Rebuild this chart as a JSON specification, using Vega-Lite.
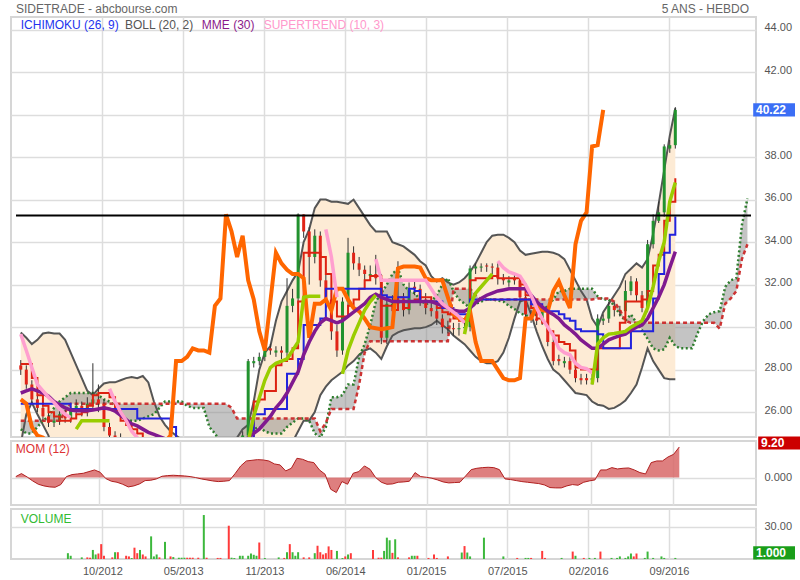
{
"$schema":"https://vega.github.io/schema/vega-lite/v6.json",
"background":"white",
"padding":{"left":10,"top":2,"right":0,"bottom":0},
"bounds":"flush",
"config":{"font":"Liberation Sans","view":{"stroke":"#d6d6d6","strokeWidth":2},"axis":{"labelFont":"Liberation Sans","labelFontSize":11,"labelColor":"#555555","gridColor":"#dddddd","gridWidth":1.5,"domain":false,"ticks":false,"title":null},"concat":{"spacing":4}},
"datasets":{
"p":[
{"d":"2012-03-19","o":28.2,"h":28.45,"l":27.75,"c":28.0,"bu":29.75,"bl":24.5,"tk":28.26,"kj":26.4,"sa":25.2,"sb":25.6,"ck":26.6,"me":26.9,"m":0.3},
{"d":"2012-04-02","o":28.0,"h":28.2,"l":27.1,"c":27.3,"bu":29.5,"bl":25.9,"tk":28.26,"kj":26.4,"sa":25.0,"sb":25.6,"ck":26.4,"me":27.0,"m":1.2},
{"d":"2012-04-16","o":27.3,"h":27.5,"l":26.4,"c":26.6,"bu":29.2,"bl":26.45,"tk":27.6,"kj":26.4,"sa":25.0,"sb":25.6,"ck":25.3,"me":27.1,"m":0.2},
{"d":"2012-04-30","o":26.6,"h":26.8,"l":26.0,"c":26.2,"bu":29.4,"bl":25.9,"tk":26.8,"kj":26.4,"sa":25.3,"sb":25.6,"ck":24.9,"me":27.0,"m":-1.0},
{"d":"2012-05-14","o":26.2,"h":26.4,"l":25.6,"c":25.8,"bu":29.7,"bl":25.4,"tk":26.3,"kj":26.4,"sa":25.6,"sb":25.6,"ck":24.8,"me":26.9,"m":-2.0},
{"d":"2012-05-28","o":25.8,"h":26.0,"l":25.3,"c":25.5,"bu":29.75,"bl":24.9,"tk":26.0,"kj":26.4,"sa":25.8,"sb":25.6,"ck":24.6,"me":26.75,"m":-2.5},
{"d":"2012-06-11","o":25.5,"h":25.8,"l":25.3,"c":25.6,"bu":29.7,"bl":23.8,"tk":25.8,"kj":26.4,"sa":26.2,"sb":25.6,"ck":24.5,"me":26.5,"m":-2.8},
{"d":"2012-06-25","o":25.6,"h":26.1,"l":25.4,"c":25.9,"bu":29.7,"bl":23.8,"tk":25.6,"kj":26.4,"sa":26.5,"sb":25.6,"ck":24.4,"me":26.35,"m":-2.9},
{"d":"2012-07-09","o":25.9,"h":26.1,"l":25.5,"c":25.7,"bu":29.4,"bl":23.8,"tk":25.6,"kj":26.4,"sa":26.7,"sb":26.0,"ck":24.3,"me":26.2,"m":-2.1},
{"d":"2012-07-23","o":25.7,"h":26.3,"l":25.5,"c":26.1,"bu":28.8,"bl":23.8,"tk":25.7,"kj":26.15,"sa":26.9,"sb":26.4,"ck":24.4,"me":26.1,"m":0.3},
{"d":"2012-08-06","o":26.1,"h":26.6,"l":25.9,"c":26.3,"bu":28.2,"bl":23.8,"tk":25.9,"kj":26.15,"sa":26.9,"sb":26.4,"ck":24.3,"me":26.06,"m":0.9},
{"d":"2012-08-20","o":26.3,"h":26.5,"l":25.8,"c":26.0,"bu":27.6,"bl":23.8,"tk":26.0,"kj":26.15,"sa":26.9,"sb":26.4,"ck":24.2,"me":26.06,"m":1.1},
{"d":"2012-09-03","o":26.0,"h":26.7,"l":25.8,"c":26.4,"bu":27.0,"bl":23.8,"tk":26.3,"kj":26.15,"sa":26.9,"sb":26.4,"ck":24.3,"me":26.06,"m":1.3},
{"d":"2012-09-17","o":26.4,"h":28.3,"l":26.2,"c":26.6,"bu":26.8,"bl":23.8,"tk":26.8,"kj":26.15,"sa":26.9,"sb":26.4,"ck":24.4,"me":26.1,"m":1.8},
{"d":"2012-10-01","o":26.6,"h":27.3,"l":26.0,"c":26.4,"bu":27.1,"bl":23.8,"tk":26.9,"kj":26.15,"sa":26.8,"sb":26.4,"ck":24.3,"me":26.15,"m":2.3},
{"d":"2012-10-15","o":26.4,"h":26.6,"l":25.1,"c":25.3,"bu":27.35,"bl":23.8,"tk":26.9,"kj":26.15,"sa":26.6,"sb":26.4,"ck":24.2,"me":26.2,"m":1.6},
{"d":"2012-10-29","o":25.3,"h":25.5,"l":24.7,"c":24.9,"bu":27.4,"bl":23.8,"tk":26.7,"kj":26.15,"sa":26.5,"sb":26.4,"ck":24.3,"me":26.15,"m":-0.3},
{"d":"2012-11-12","o":24.9,"h":25.1,"l":24.6,"c":24.8,"bu":27.4,"bl":23.8,"tk":26.1,"kj":26.15,"sa":26.3,"sb":26.4,"ck":24.4,"me":26.05,"m":-1.1},
{"d":"2012-11-26","o":24.8,"h":25.0,"l":24.4,"c":24.6,"bu":27.5,"bl":23.8,"tk":25.6,"kj":26.15,"sa":25.9,"sb":26.4,"ck":24.3,"me":25.85,"m":-1.4},
{"d":"2012-12-10","o":24.6,"h":24.8,"l":24.3,"c":24.5,"bu":27.6,"bl":23.8,"tk":25.4,"kj":26.15,"sa":25.6,"sb":26.4,"ck":24.2,"me":25.65,"m":-2.0},
{"d":"2012-12-24","o":24.5,"h":24.7,"l":24.2,"c":24.4,"bu":27.65,"bl":23.8,"tk":25.2,"kj":26.15,"sa":25.6,"sb":26.4,"ck":24.3,"me":25.45,"m":-2.8},
{"d":"2013-01-07","o":24.4,"h":24.6,"l":24.1,"c":24.3,"bu":27.6,"bl":23.8,"tk":25.0,"kj":25.7,"sa":25.6,"sb":26.4,"ck":24.4,"me":25.35,"m":-2.5},
{"d":"2013-01-21","o":24.3,"h":24.6,"l":24.1,"c":24.4,"bu":27.7,"bl":23.8,"tk":24.6,"kj":25.7,"sa":25.7,"sb":26.4,"ck":24.3,"me":25.2,"m":-1.9},
{"d":"2013-02-04","o":24.4,"h":24.6,"l":24.1,"c":24.3,"bu":27.4,"bl":23.8,"tk":24.5,"kj":25.7,"sa":25.8,"sb":26.4,"ck":24.2,"me":25.05,"m":-0.9},
{"d":"2013-02-18","o":24.3,"h":24.5,"l":24.0,"c":24.2,"bu":26.5,"bl":23.8,"tk":24.4,"kj":25.7,"sa":25.9,"sb":26.4,"ck":24.3,"me":24.95,"m":-0.8},
{"d":"2013-03-04","o":24.2,"h":24.5,"l":24.0,"c":24.3,"bu":25.8,"bl":23.8,"tk":24.4,"kj":25.7,"sa":26.2,"sb":26.4,"ck":24.4,"me":24.85,"m":-0.4},
{"d":"2013-03-18","o":24.3,"h":24.6,"l":24.1,"c":24.4,"bu":25.4,"bl":23.8,"tk":24.4,"kj":25.7,"sa":26.5,"sb":26.4,"ck":24.6,"me":24.75,"m":0.4},
{"d":"2013-04-01","o":24.4,"h":24.6,"l":24.1,"c":24.3,"bu":25.1,"bl":23.8,"tk":24.4,"kj":25.3,"sa":26.5,"sb":26.4,"ck":24.9,"me":24.7,"m":0.6},
{"d":"2013-04-15","o":24.3,"h":24.5,"l":24.0,"c":24.2,"bu":24.9,"bl":23.8,"tk":24.4,"kj":24.5,"sa":26.5,"sb":26.4,"ck":28.4,"me":24.65,"m":0.7},
{"d":"2013-04-29","o":24.2,"h":24.5,"l":24.0,"c":24.3,"bu":24.7,"bl":23.8,"tk":24.4,"kj":24.5,"sa":26.5,"sb":26.4,"ck":28.4,"me":24.6,"m":0.6},
{"d":"2013-05-13","o":24.3,"h":24.6,"l":24.1,"c":24.4,"bu":24.6,"bl":23.8,"tk":24.4,"kj":24.5,"sa":26.3,"sb":26.4,"ck":28.6,"me":24.55,"m":0.5},
{"d":"2013-05-27","o":24.4,"h":24.6,"l":24.1,"c":24.3,"bu":24.6,"bl":23.8,"tk":24.4,"kj":24.5,"sa":26.2,"sb":26.4,"ck":29.0,"me":24.5,"m":0.3},
{"d":"2013-06-10","o":24.3,"h":24.5,"l":24.0,"c":24.2,"bu":24.6,"bl":23.8,"tk":24.4,"kj":24.5,"sa":26.2,"sb":26.4,"ck":28.9,"me":24.5,"m":0.0},
{"d":"2013-06-24","o":24.2,"h":24.5,"l":24.0,"c":24.3,"bu":24.6,"bl":23.8,"tk":24.4,"kj":24.5,"sa":26.2,"sb":26.4,"ck":28.9,"me":24.5,"m":-0.4},
{"d":"2013-07-08","o":24.3,"h":24.6,"l":24.1,"c":24.4,"bu":24.6,"bl":23.8,"tk":24.4,"kj":24.5,"sa":25.3,"sb":26.4,"ck":28.8,"me":24.5,"m":-0.7},
{"d":"2013-07-22","o":24.4,"h":24.6,"l":24.1,"c":24.3,"bu":24.6,"bl":23.8,"tk":24.4,"kj":24.5,"sa":25.0,"sb":26.4,"ck":31.0,"me":24.5,"m":-1.0},
{"d":"2013-08-05","o":24.3,"h":24.5,"l":24.0,"c":24.2,"bu":24.6,"bl":23.8,"tk":24.4,"kj":24.5,"sa":24.6,"sb":26.4,"ck":31.35,"me":24.5,"m":-1.2},
{"d":"2013-08-19","o":24.2,"h":24.5,"l":24.0,"c":24.3,"bu":24.6,"bl":23.8,"tk":24.4,"kj":24.5,"sa":24.6,"sb":26.4,"ck":35.3,"me":24.5,"m":-1.1},
{"d":"2013-09-02","o":24.3,"h":24.6,"l":24.1,"c":24.4,"bu":24.7,"bl":23.8,"tk":24.4,"kj":24.5,"sa":24.6,"sb":26.2,"ck":34.5,"me":24.5,"m":-0.9},
{"d":"2013-09-16","o":24.4,"h":24.8,"l":24.2,"c":24.6,"bu":24.8,"bl":23.8,"tk":24.4,"kj":24.5,"sa":24.6,"sb":25.7,"ck":33.3,"me":24.55,"m":1.2},
{"d":"2013-09-30","o":24.6,"h":25.1,"l":24.4,"c":24.9,"bu":25.2,"bl":23.8,"tk":24.4,"kj":24.5,"sa":24.6,"sb":25.7,"ck":34.3,"me":24.6,"m":3.5},
{"d":"2013-10-14","o":24.9,"h":28.5,"l":24.8,"c":28.4,"bu":25.4,"bl":23.8,"tk":24.8,"kj":24.5,"sa":24.8,"sb":25.7,"ck":32.2,"me":24.8,"m":5.0},
{"d":"2013-10-28","o":28.3,"h":28.6,"l":28.1,"c":28.4,"bu":26.5,"bl":23.8,"tk":26.5,"kj":25.9,"sa":25.2,"sb":25.7,"ck":31.3,"me":25.0,"m":5.2},
{"d":"2013-11-11","o":28.4,"h":28.8,"l":28.2,"c":28.6,"bu":28.0,"bl":23.8,"tk":26.6,"kj":25.9,"sa":25.3,"sb":25.7,"ck":29.8,"me":25.2,"m":5.4},
{"d":"2013-11-25","o":28.6,"h":29.2,"l":28.4,"c":29.0,"bu":28.8,"bl":23.8,"tk":27.0,"kj":26.15,"sa":25.1,"sb":25.7,"ck":28.9,"me":25.5,"m":5.3},
{"d":"2013-12-09","o":29.0,"h":29.2,"l":28.7,"c":28.9,"bu":29.1,"bl":23.8,"tk":27.0,"kj":26.15,"sa":25.0,"sb":25.7,"ck":31.2,"me":25.8,"m":5.0},
{"d":"2013-12-23","o":28.8,"h":29.1,"l":28.6,"c":28.9,"bu":30.3,"bl":23.8,"tk":28.2,"kj":26.15,"sa":25.0,"sb":25.7,"ck":33.5,"me":26.2,"m":4.1},
{"d":"2014-01-06","o":28.9,"h":29.1,"l":28.5,"c":28.8,"bu":31.2,"bl":23.8,"tk":28.4,"kj":26.15,"sa":25.0,"sb":25.7,"ck":33.0,"me":26.5,"m":3.8},
{"d":"2014-01-20","o":28.8,"h":32.3,"l":28.6,"c":31.0,"bu":31.7,"bl":23.8,"tk":28.5,"kj":27.8,"sa":25.3,"sb":25.7,"ck":32.7,"me":26.9,"m":2.0},
{"d":"2014-02-03","o":31.0,"h":31.8,"l":30.7,"c":31.35,"bu":32.2,"bl":24.6,"tk":29.0,"kj":27.8,"sa":25.5,"sb":25.7,"ck":32.5,"me":27.4,"m":2.8},
{"d":"2014-02-17","o":31.35,"h":35.35,"l":31.1,"c":35.3,"bu":32.6,"bl":25.1,"tk":31.2,"kj":28.5,"sa":25.7,"sb":25.7,"ck":32.5,"me":27.9,"m":5.8},
{"d":"2014-03-03","o":35.3,"h":35.3,"l":34.2,"c":34.5,"bu":34.0,"bl":25.6,"tk":33.5,"kj":30.1,"sa":25.7,"sb":25.7,"ck":32.3,"me":28.7,"m":5.5},
{"d":"2014-03-17","o":34.5,"h":34.7,"l":32.0,"c":33.3,"bu":34.6,"bl":25.6,"tk":33.5,"kj":30.1,"sa":25.6,"sb":25.7,"ck":29.5,"me":29.3,"m":4.8},
{"d":"2014-03-31","o":33.3,"h":34.6,"l":33.0,"c":34.3,"bu":35.6,"bl":26.0,"tk":33.5,"kj":30.1,"sa":25.0,"sb":25.7,"ck":31.1,"me":29.8,"m":4.5},
{"d":"2014-04-14","o":34.3,"h":34.5,"l":31.9,"c":32.2,"bu":36.0,"bl":26.8,"tk":33.3,"kj":30.4,"sa":24.8,"sb":25.1,"ck":31.1,"me":30.2,"m":2.3},
{"d":"2014-04-28","o":32.2,"h":32.5,"l":30.9,"c":31.3,"bu":36.0,"bl":27.2,"tk":32.5,"kj":31.8,"sa":25.3,"sb":25.5,"ck":31.3,"me":30.4,"m":1.0},
{"d":"2014-05-12","o":31.3,"h":31.6,"l":29.4,"c":29.8,"bu":35.9,"bl":27.5,"tk":31.2,"kj":31.8,"sa":26.7,"sb":26.15,"ck":30.8,"me":30.3,"m":-3.5},
{"d":"2014-05-26","o":29.8,"h":30.1,"l":28.6,"c":28.9,"bu":35.9,"bl":27.7,"tk":30.5,"kj":31.8,"sa":26.7,"sb":26.15,"ck":31.8,"me":30.2,"m":-4.5},
{"d":"2014-06-09","o":28.9,"h":31.4,"l":28.7,"c":31.2,"bu":35.85,"bl":27.9,"tk":30.5,"kj":31.8,"sa":26.8,"sb":26.15,"ck":31.8,"me":30.3,"m":-1.2},
{"d":"2014-06-23","o":31.2,"h":34.2,"l":31.0,"c":33.5,"bu":35.8,"bl":28.2,"tk":31.0,"kj":31.8,"sa":27.3,"sb":26.15,"ck":31.3,"me":30.5,"m":-2.0},
{"d":"2014-07-07","o":33.5,"h":33.8,"l":32.7,"c":33.0,"bu":36.0,"bl":28.4,"tk":31.3,"kj":31.8,"sa":27.3,"sb":26.15,"ck":30.9,"me":30.7,"m":1.3},
{"d":"2014-07-21","o":33.0,"h":33.3,"l":32.4,"c":32.7,"bu":35.6,"bl":28.7,"tk":31.8,"kj":31.8,"sa":28.6,"sb":27.3,"ck":30.75,"me":30.9,"m":1.8},
{"d":"2014-08-04","o":32.7,"h":32.9,"l":32.2,"c":32.5,"bu":35.2,"bl":28.9,"tk":32.2,"kj":31.8,"sa":29.2,"sb":28.8,"ck":30.4,"me":31.1,"m":3.5},
{"d":"2014-08-18","o":32.4,"h":32.9,"l":32.2,"c":32.5,"bu":34.8,"bl":29.0,"tk":32.4,"kj":31.8,"sa":30.1,"sb":29.34,"ck":30.0,"me":31.4,"m":2.5},
{"d":"2014-09-01","o":32.5,"h":33.4,"l":32.0,"c":32.3,"bu":34.5,"bl":28.8,"tk":32.4,"kj":31.8,"sa":31.2,"sb":29.34,"ck":29.95,"me":31.55,"m":0.0},
{"d":"2014-09-15","o":32.3,"h":32.5,"l":29.2,"c":29.5,"bu":34.5,"bl":28.5,"tk":31.0,"kj":31.5,"sa":31.6,"sb":29.34,"ck":29.9,"me":31.4,"m":-1.4},
{"d":"2014-09-29","o":29.5,"h":31.4,"l":29.2,"c":31.1,"bu":34.5,"bl":29.1,"tk":31.0,"kj":31.4,"sa":32.0,"sb":29.34,"ck":29.95,"me":31.3,"m":-2.0},
{"d":"2014-10-13","o":31.0,"h":31.5,"l":30.7,"c":31.1,"bu":34.0,"bl":29.6,"tk":30.8,"kj":31.4,"sa":32.5,"sb":29.34,"ck":30.0,"me":31.2,"m":-1.9},
{"d":"2014-10-27","o":31.1,"h":33.1,"l":30.8,"c":31.3,"bu":33.9,"bl":29.75,"tk":31.4,"kj":31.4,"sa":32.76,"sb":29.34,"ck":32.76,"me":31.2,"m":-1.4},
{"d":"2014-11-10","o":31.3,"h":31.6,"l":30.5,"c":30.8,"bu":33.8,"bl":29.85,"tk":30.9,"kj":31.4,"sa":32.0,"sb":29.34,"ck":32.85,"me":31.2,"m":-1.3},
{"d":"2014-11-24","o":30.8,"h":32.1,"l":30.6,"c":31.8,"bu":33.6,"bl":29.9,"tk":31.2,"kj":31.8,"sa":31.7,"sb":29.34,"ck":32.85,"me":31.2,"m":-1.1},
{"d":"2014-12-08","o":31.9,"h":32.2,"l":31.5,"c":31.8,"bu":33.4,"bl":29.95,"tk":31.3,"kj":31.7,"sa":31.6,"sb":29.34,"ck":32.85,"me":31.2,"m":1.5},
{"d":"2014-12-22","o":31.8,"h":32.0,"l":31.0,"c":31.3,"bu":33.1,"bl":29.95,"tk":31.4,"kj":31.2,"sa":31.3,"sb":29.34,"ck":32.8,"me":31.2,"m":0.3},
{"d":"2015-01-05","o":31.3,"h":31.6,"l":30.6,"c":30.9,"bu":32.9,"bl":30.0,"tk":31.4,"kj":31.2,"sa":31.07,"sb":29.34,"ck":32.3,"me":31.2,"m":0.1},
{"d":"2015-01-19","o":30.9,"h":31.2,"l":30.5,"c":30.75,"bu":32.4,"bl":30.1,"tk":31.2,"kj":31.2,"sa":31.2,"sb":29.34,"ck":32.2,"me":31.2,"m":-0.2},
{"d":"2015-02-02","o":30.75,"h":31.0,"l":30.1,"c":30.4,"bu":32.15,"bl":30.3,"tk":30.9,"kj":31.2,"sa":31.5,"sb":29.34,"ck":32.2,"me":31.1,"m":-0.7},
{"d":"2015-02-16","o":30.4,"h":30.6,"l":29.7,"c":30.0,"bu":32.3,"bl":30.1,"tk":30.7,"kj":30.9,"sa":32.0,"sb":29.34,"ck":32.2,"me":31.0,"m":-1.3},
{"d":"2015-03-02","o":30.0,"h":30.3,"l":29.7,"c":29.95,"bu":32.1,"bl":29.9,"tk":30.6,"kj":30.9,"sa":32.3,"sb":29.34,"ck":31.4,"me":30.9,"m":-1.6},
{"d":"2015-03-16","o":29.95,"h":30.2,"l":29.6,"c":29.9,"bu":32.0,"bl":29.6,"tk":30.4,"kj":30.6,"sa":31.7,"sb":31.8,"ck":30.6,"me":30.8,"m":-1.5},
{"d":"2015-03-30","o":29.9,"h":30.2,"l":29.6,"c":29.95,"bu":32.1,"bl":29.4,"tk":30.3,"kj":30.6,"sa":31.3,"sb":31.8,"ck":30.4,"me":30.75,"m":-1.4},
{"d":"2015-04-13","o":29.95,"h":30.3,"l":29.7,"c":30.0,"bu":32.3,"bl":29.2,"tk":30.3,"kj":30.6,"sa":31.1,"sb":31.8,"ck":30.3,"me":30.75,"m":0.5},
{"d":"2015-04-27","o":30.0,"h":32.9,"l":29.8,"c":32.76,"bu":32.6,"bl":28.9,"tk":32.2,"kj":31.3,"sa":30.9,"sb":31.8,"ck":30.75,"me":30.9,"m":2.4},
{"d":"2015-05-11","o":32.76,"h":33.0,"l":32.5,"c":32.85,"bu":33.0,"bl":28.6,"tk":32.3,"kj":31.3,"sa":31.1,"sb":31.5,"ck":29.3,"me":31.15,"m":2.8},
{"d":"2015-05-25","o":32.8,"h":33.0,"l":32.6,"c":32.85,"bu":33.5,"bl":28.4,"tk":32.3,"kj":31.3,"sa":31.2,"sb":31.3,"ck":28.4,"me":31.35,"m":3.0},
{"d":"2015-06-08","o":32.9,"h":33.0,"l":32.6,"c":32.85,"bu":34.0,"bl":28.3,"tk":32.3,"kj":31.3,"sa":31.3,"sb":31.3,"ck":28.4,"me":31.5,"m":3.1},
{"d":"2015-06-22","o":32.85,"h":33.0,"l":32.5,"c":32.8,"bu":34.3,"bl":28.3,"tk":32.4,"kj":31.3,"sa":31.3,"sb":31.3,"ck":28.4,"me":31.6,"m":3.0},
{"d":"2015-07-06","o":32.8,"h":33.0,"l":32.0,"c":32.3,"bu":34.35,"bl":28.4,"tk":32.3,"kj":31.3,"sa":31.25,"sb":31.3,"ck":28.0,"me":31.7,"m":2.4},
{"d":"2015-07-20","o":32.3,"h":32.5,"l":32.0,"c":32.2,"bu":34.35,"bl":28.8,"tk":32.3,"kj":31.3,"sa":31.2,"sb":31.3,"ck":27.6,"me":31.75,"m":-0.4},
{"d":"2015-08-03","o":32.1,"h":32.4,"l":31.9,"c":32.2,"bu":34.2,"bl":29.5,"tk":32.3,"kj":31.3,"sa":31.0,"sb":31.3,"ck":27.5,"me":31.8,"m":-0.6},
{"d":"2015-08-17","o":32.3,"h":32.5,"l":32.0,"c":32.2,"bu":34.0,"bl":30.4,"tk":32.3,"kj":31.3,"sa":30.85,"sb":31.3,"ck":27.5,"me":31.8,"m":-0.9},
{"d":"2015-08-31","o":32.2,"h":32.4,"l":31.2,"c":31.4,"bu":33.6,"bl":31.2,"tk":32.0,"kj":31.3,"sa":30.65,"sb":31.3,"ck":27.6,"me":31.8,"m":-1.2},
{"d":"2015-09-14","o":31.4,"h":31.6,"l":30.4,"c":30.6,"bu":33.4,"bl":31.3,"tk":31.5,"kj":31.3,"sa":30.55,"sb":31.3,"ck":30.4,"me":31.8,"m":-1.4},
{"d":"2015-09-28","o":30.6,"h":30.8,"l":30.2,"c":30.4,"bu":33.45,"bl":30.6,"tk":30.9,"kj":31.07,"sa":30.5,"sb":31.3,"ck":30.4,"me":31.5,"m":-1.6},
{"d":"2015-10-12","o":30.4,"h":30.6,"l":30.1,"c":30.3,"bu":33.5,"bl":29.8,"tk":30.4,"kj":31.07,"sa":30.6,"sb":31.3,"ck":31.0,"me":31.2,"m":-1.8},
{"d":"2015-10-26","o":30.3,"h":31.0,"l":30.1,"c":30.75,"bu":33.55,"bl":29.1,"tk":30.2,"kj":30.9,"sa":30.75,"sb":31.3,"ck":30.8,"me":30.95,"m":-2.2},
{"d":"2015-11-09","o":30.75,"h":30.9,"l":29.1,"c":29.3,"bu":33.55,"bl":28.5,"tk":29.8,"kj":30.75,"sa":31.0,"sb":31.3,"ck":30.75,"me":30.75,"m":-3.0},
{"d":"2015-11-23","o":29.3,"h":29.5,"l":28.2,"c":28.4,"bu":33.5,"bl":28.0,"tk":29.6,"kj":30.75,"sa":31.3,"sb":31.3,"ck":31.7,"me":30.6,"m":-3.1},
{"d":"2015-12-07","o":28.5,"h":28.7,"l":28.2,"c":28.4,"bu":33.4,"bl":27.8,"tk":29.3,"kj":30.6,"sa":31.7,"sb":31.3,"ck":32.15,"me":30.4,"m":-3.1},
{"d":"2015-12-21","o":28.3,"h":28.6,"l":28.1,"c":28.4,"bu":33.2,"bl":27.5,"tk":29.2,"kj":30.4,"sa":31.7,"sb":31.3,"ck":31.5,"me":30.1,"m":-2.5},
{"d":"2016-01-04","o":28.4,"h":28.6,"l":27.8,"c":28.0,"bu":32.7,"bl":27.2,"tk":28.9,"kj":30.3,"sa":31.8,"sb":31.3,"ck":30.9,"me":29.9,"m":-2.1},
{"d":"2016-01-18","o":28.0,"h":28.2,"l":27.4,"c":27.6,"bu":32.2,"bl":26.9,"tk":28.1,"kj":29.9,"sa":31.8,"sb":31.3,"ck":33.9,"me":29.67,"m":-2.3},
{"d":"2016-02-01","o":27.6,"h":27.8,"l":27.3,"c":27.5,"bu":31.7,"bl":26.85,"tk":28.0,"kj":29.8,"sa":31.8,"sb":31.3,"ck":35.0,"me":29.4,"m":-1.4},
{"d":"2016-02-15","o":27.6,"h":27.8,"l":27.3,"c":27.5,"bu":31.3,"bl":26.8,"tk":28.0,"kj":29.8,"sa":31.8,"sb":31.3,"ck":35.4,"me":29.2,"m":-1.0},
{"d":"2016-02-29","o":27.5,"h":27.8,"l":27.3,"c":27.6,"bu":30.4,"bl":26.5,"tk":28.0,"kj":29.8,"sa":31.8,"sb":31.3,"ck":38.5,"me":29.0,"m":-0.7},
{"d":"2016-03-14","o":27.6,"h":30.6,"l":27.4,"c":30.4,"bu":30.0,"bl":26.35,"tk":29.0,"kj":29.67,"sa":31.45,"sb":31.35,"ck":38.56,"me":29.0,"m":2.3},
{"d":"2016-03-28","o":30.3,"h":30.6,"l":30.1,"c":30.4,"bu":30.7,"bl":26.3,"tk":29.0,"kj":29.0,"sa":31.3,"sb":31.35,"ck":40.22,"me":29.2,"m":2.3},
{"d":"2016-04-11","o":30.4,"h":31.2,"l":30.2,"c":31.0,"bu":31.1,"bl":26.15,"tk":29.0,"kj":29.0,"sa":31.3,"sb":31.35,"me":29.4,"m":3.0},
{"d":"2016-04-25","o":31.0,"h":31.2,"l":30.5,"c":30.8,"bu":31.5,"bl":26.2,"tk":29.0,"kj":29.0,"sa":31.0,"sb":31.2,"me":29.5,"m":2.6},
{"d":"2016-05-09","o":30.8,"h":31.0,"l":30.5,"c":30.75,"bu":31.9,"bl":26.35,"tk":30.2,"kj":29.0,"sa":30.6,"sb":30.8,"me":29.6,"m":2.8},
{"d":"2016-05-23","o":30.75,"h":32.2,"l":30.6,"c":31.7,"bu":32.5,"bl":26.55,"tk":31.2,"kj":29.0,"sa":30.3,"sb":30.3,"me":29.67,"m":2.9},
{"d":"2016-06-06","o":31.7,"h":32.4,"l":31.5,"c":32.15,"bu":32.75,"bl":26.9,"tk":31.2,"kj":29.8,"sa":30.6,"sb":30.2,"me":29.85,"m":2.3},
{"d":"2016-06-20","o":32.15,"h":32.3,"l":31.2,"c":31.5,"bu":33.0,"bl":27.3,"tk":31.2,"kj":29.8,"sa":30.2,"sb":30.2,"me":30.0,"m":1.5},
{"d":"2016-07-04","o":31.5,"h":31.7,"l":30.7,"c":30.9,"bu":32.8,"bl":28.1,"tk":31.3,"kj":29.8,"sa":29.85,"sb":30.2,"me":30.1,"m":1.1},
{"d":"2016-07-18","o":30.9,"h":34.1,"l":30.7,"c":33.9,"bu":33.2,"bl":29.0,"tk":31.7,"kj":29.8,"sa":29.45,"sb":30.2,"me":30.4,"m":4.5},
{"d":"2016-08-01","o":33.9,"h":35.3,"l":33.7,"c":35.0,"bu":34.4,"bl":28.4,"tk":32.9,"kj":31.35,"sa":29.0,"sb":30.2,"me":30.9,"m":5.0},
{"d":"2016-08-15","o":35.0,"h":35.9,"l":34.9,"c":35.4,"bu":35.8,"bl":28.0,"tk":33.4,"kj":32.5,"sa":28.9,"sb":30.2,"me":31.4,"m":5.0},
{"d":"2016-08-29","o":35.4,"h":38.6,"l":35.2,"c":38.5,"bu":37.4,"bl":27.6,"tk":35.0,"kj":33.5,"sa":28.95,"sb":30.2,"me":32.0,"m":6.2},
{"d":"2016-09-12","o":38.4,"h":38.8,"l":38.2,"c":38.56,"bu":39.0,"bl":27.55,"tk":35.9,"kj":34.35,"sa":29.5,"sb":30.2,"me":32.8,"m":7.0},
{"d":"2016-09-26","o":38.56,"h":40.35,"l":38.4,"c":40.22,"bu":40.3,"bl":27.55,"tk":37.0,"kj":35.2,"sa":29.1,"sb":30.2,"me":33.55,"m":9.2},
{"d":"2016-10-10","sa":29.0,"sb":30.2},
{"d":"2016-10-24","sa":29.0,"sb":30.2},
{"d":"2016-11-07","sa":29.0,"sb":30.2},
{"d":"2016-11-21","sa":29.7,"sb":30.2},
{"d":"2016-12-05","sa":30.28,"sb":30.2},
{"d":"2016-12-19","sa":30.6,"sb":30.2},
{"d":"2017-01-02","sa":30.7,"sb":30.2},
{"d":"2017-01-16","sa":30.75,"sb":29.93},
{"d":"2017-01-30","sa":31.9,"sb":31.1},
{"d":"2017-02-13","sa":32.2,"sb":31.35},
{"d":"2017-02-27","sa":32.3,"sb":31.7},
{"d":"2017-03-13","sa":34.8,"sb":33.2},
{"d":"2017-03-27","sa":36.05,"sb":33.9}
],
"st":[
{"d":"2012-03-19","v":29.67,"s":1,"t":"dn"},{"d":"2012-04-02","v":28.9,"s":1,"t":"dn"},{"d":"2012-04-16","v":28.1,"s":1,"t":"dn"},{"d":"2012-04-30","v":27.3,"s":1,"t":"dn"},{"d":"2012-05-14","v":27.0,"s":1,"t":"dn"},{"d":"2012-05-28","v":26.7,"s":1,"t":"dn"},{"d":"2012-06-11","v":26.45,"s":1,"t":"dn"},{"d":"2012-06-25","v":26.15,"s":1,"t":"dn"},{"d":"2012-07-09","v":25.9,"s":1,"t":"dn"},{"d":"2012-07-23","v":25.75,"s":1,"t":"dn"},
{"d":"2012-08-06","v":25.2,"s":2,"t":"up"},{"d":"2012-08-20","v":25.6,"s":2,"t":"up"},{"d":"2012-09-03","v":25.6,"s":2,"t":"up"},{"d":"2012-09-17","v":25.6,"s":2,"t":"up"},{"d":"2012-10-01","v":25.6,"s":2,"t":"up"},{"d":"2012-10-15","v":25.6,"s":2,"t":"up"},{"d":"2012-10-29","v":25.6,"s":2,"t":"up"},
{"d":"2012-10-29","v":27.1,"s":3,"t":"dn"},{"d":"2012-11-12","v":26.5,"s":3,"t":"dn"},{"d":"2012-11-26","v":26.0,"s":3,"t":"dn"},{"d":"2012-12-10","v":25.6,"s":3,"t":"dn"},{"d":"2012-12-24","v":25.1,"s":3,"t":"dn"},{"d":"2013-01-07","v":24.8,"s":3,"t":"dn"},{"d":"2013-01-21","v":24.6,"s":3,"t":"dn"},
{"d":"2013-10-14","v":24.6,"s":4,"t":"up"},{"d":"2013-10-28","v":25.8,"s":4,"t":"up"},{"d":"2013-11-11","v":26.67,"s":4,"t":"up"},{"d":"2013-11-25","v":27.5,"s":4,"t":"up"},{"d":"2013-12-09","v":28.1,"s":4,"t":"up"},{"d":"2013-12-23","v":28.3,"s":4,"t":"up"},{"d":"2014-01-06","v":28.4,"s":4,"t":"up"},{"d":"2014-01-20","v":28.5,"s":4,"t":"up"},{"d":"2014-02-03","v":28.9,"s":4,"t":"up"},{"d":"2014-02-17","v":29.3,"s":4,"t":"up"},{"d":"2014-03-03","v":31.4,"s":4,"t":"up"},{"d":"2014-03-17","v":31.45,"s":4,"t":"up"},{"d":"2014-03-31","v":31.45,"s":4,"t":"up"},{"d":"2014-04-14","v":31.45,"s":4,"t":"up"},
{"d":"2014-04-28","v":34.6,"s":5,"t":"dn"},{"d":"2014-05-12","v":33.3,"s":5,"t":"dn"},{"d":"2014-05-26","v":31.4,"s":5,"t":"dn"},
{"d":"2014-06-09","v":27.8,"s":6,"t":"up"},{"d":"2014-06-23","v":28.9,"s":6,"t":"up"},{"d":"2014-07-07","v":29.6,"s":6,"t":"up"},{"d":"2014-07-21","v":30.2,"s":6,"t":"up"},{"d":"2014-08-04","v":30.8,"s":6,"t":"up"},{"d":"2014-08-18","v":31.2,"s":6,"t":"up"},{"d":"2014-09-01","v":31.5,"s":6,"t":"up"},
{"d":"2014-09-01","v":33.2,"s":7,"t":"dn"},{"d":"2014-09-15","v":32.2,"s":7,"t":"dn"},{"d":"2014-09-29","v":32.2,"s":7,"t":"dn"},{"d":"2014-10-13","v":32.2,"s":7,"t":"dn"},{"d":"2014-10-27","v":32.2,"s":7,"t":"dn"},{"d":"2014-11-10","v":32.2,"s":7,"t":"dn"},{"d":"2014-11-24","v":32.2,"s":7,"t":"dn"},{"d":"2014-12-08","v":32.2,"s":7,"t":"dn"},{"d":"2014-12-22","v":32.2,"s":7,"t":"dn"},{"d":"2015-01-05","v":32.2,"s":7,"t":"dn"},{"d":"2015-01-19","v":31.8,"s":7,"t":"dn"},{"d":"2015-02-02","v":31.4,"s":7,"t":"dn"},{"d":"2015-02-16","v":31.1,"s":7,"t":"dn"},{"d":"2015-03-02","v":30.9,"s":7,"t":"dn"},{"d":"2015-03-16","v":30.7,"s":7,"t":"dn"},{"d":"2015-03-30","v":30.5,"s":7,"t":"dn"},{"d":"2015-04-13","v":30.2,"s":7,"t":"dn"},
{"d":"2015-04-13","v":29.67,"s":8,"t":"up"},{"d":"2015-04-27","v":31.0,"s":8,"t":"up"},{"d":"2015-05-11","v":31.6,"s":8,"t":"up"},{"d":"2015-05-25","v":31.9,"s":8,"t":"up"},{"d":"2015-06-08","v":32.2,"s":8,"t":"up"},{"d":"2015-06-22","v":32.5,"s":8,"t":"up"},
{"d":"2015-07-06","v":33.1,"s":9,"t":"dn"},{"d":"2015-07-20","v":32.8,"s":9,"t":"dn"},{"d":"2015-08-03","v":32.6,"s":9,"t":"dn"},{"d":"2015-08-17","v":32.5,"s":9,"t":"dn"},{"d":"2015-08-31","v":32.4,"s":9,"t":"dn"},{"d":"2015-09-14","v":32.0,"s":9,"t":"dn"},{"d":"2015-09-28","v":31.5,"s":9,"t":"dn"},{"d":"2015-10-12","v":30.9,"s":9,"t":"dn"},{"d":"2015-10-26","v":30.4,"s":9,"t":"dn"},{"d":"2015-11-09","v":30.0,"s":9,"t":"dn"},{"d":"2015-11-23","v":29.6,"s":9,"t":"dn"},{"d":"2015-12-07","v":29.0,"s":9,"t":"dn"},{"d":"2015-12-21","v":28.8,"s":9,"t":"dn"},{"d":"2016-01-04","v":28.7,"s":9,"t":"dn"},{"d":"2016-01-18","v":28.3,"s":9,"t":"dn"},{"d":"2016-02-01","v":28.1,"s":9,"t":"dn"},{"d":"2016-02-15","v":28.05,"s":9,"t":"dn"},{"d":"2016-02-29","v":27.85,"s":9,"t":"dn"},
{"d":"2016-02-29","v":27.3,"s":10,"t":"up"},{"d":"2016-03-14","v":29.2,"s":10,"t":"up"},{"d":"2016-03-28","v":29.5,"s":10,"t":"up"},{"d":"2016-04-11","v":29.67,"s":10,"t":"up"},{"d":"2016-04-25","v":29.7,"s":10,"t":"up"},{"d":"2016-05-09","v":29.75,"s":10,"t":"up"},{"d":"2016-05-23","v":29.8,"s":10,"t":"up"},{"d":"2016-06-06","v":30.0,"s":10,"t":"up"},{"d":"2016-06-20","v":30.15,"s":10,"t":"up"},{"d":"2016-07-04","v":30.3,"s":10,"t":"up"},{"d":"2016-07-18","v":30.9,"s":10,"t":"up"},{"d":"2016-08-01","v":31.9,"s":10,"t":"up"},{"d":"2016-08-15","v":33.1,"s":10,"t":"up"},{"d":"2016-08-29","v":34.0,"s":10,"t":"up"},{"d":"2016-09-12","v":35.9,"s":10,"t":"up"},{"d":"2016-09-26","v":36.8,"s":10,"t":"up"}
],
"vol":[
{"d":"2012-07-16","v":5.4,"u":"G"},{"d":"2012-07-23","v":3.0,"u":"G"},{"d":"2012-08-20","v":1.5,"u":"G"},{"d":"2012-09-03","v":1.5,"u":"R"},{"d":"2012-09-10","v":1.2,"u":"R"},{"d":"2012-09-17","v":8.4,"u":"G"},{"d":"2012-09-24","v":4.2,"u":"G"},{"d":"2012-10-01","v":5.1,"u":"R"},{"d":"2012-10-08","v":13.8,"u":"R"},{"d":"2012-10-15","v":3.0,"u":"R"},{"d":"2012-11-05","v":1.5,"u":"R"},{"d":"2012-11-12","v":6.3,"u":"G"},{"d":"2012-11-19","v":6.3,"u":"R"},{"d":"2012-12-10","v":3.0,"u":"R"},{"d":"2012-12-17","v":2.4,"u":"R"},{"d":"2012-12-24","v":0.9,"u":"G"},{"d":"2012-12-31","v":10.5,"u":"R"},{"d":"2013-01-07","v":5.4,"u":"R"},{"d":"2013-01-14","v":8.4,"u":"G"},{"d":"2013-01-21","v":4.2,"u":"R"},{"d":"2013-01-28","v":2.4,"u":"R"},{"d":"2013-02-11","v":21.0,"u":"G"},{"d":"2013-02-18","v":2.4,"u":"G"},{"d":"2013-02-25","v":4.2,"u":"G"},{"d":"2013-03-04","v":1.5,"u":"R"},{"d":"2013-03-18","v":15.9,"u":"G"},{"d":"2013-04-01","v":2.4,"u":"R"},{"d":"2013-04-08","v":1.8,"u":"G"},{"d":"2013-04-22","v":1.2,"u":"G"},{"d":"2013-04-29","v":1.2,"u":"G"},{"d":"2013-05-06","v":1.2,"u":"G"},{"d":"2013-05-13","v":1.2,"u":"R"},{"d":"2013-05-20","v":1.2,"u":"R"},{"d":"2013-05-27","v":1.2,"u":"R"},{"d":"2013-06-10","v":1.2,"u":"R"},{"d":"2013-06-24","v":40.8,"u":"G"},{"d":"2013-07-01","v":1.2,"u":"R"},{"d":"2013-07-29","v":1.0,"u":"R"},{"d":"2013-08-05","v":1.0,"u":"R"},{"d":"2013-08-26","v":30.9,"u":"R"},{"d":"2013-09-02","v":1.2,"u":"G"},{"d":"2013-09-09","v":0.9,"u":"G"},{"d":"2013-09-23","v":3.0,"u":"G"},{"d":"2013-09-30","v":3.0,"u":"G"},{"d":"2013-10-14","v":3.0,"u":"G"},{"d":"2013-10-21","v":5.1,"u":"G"},{"d":"2013-10-28","v":3.9,"u":"G"},{"d":"2013-11-04","v":3.0,"u":"G"},{"d":"2013-11-11","v":15.3,"u":"R"},{"d":"2013-11-25","v":0.9,"u":"G"},{"d":"2013-12-30","v":1.5,"u":"G"},{"d":"2014-01-13","v":1.0,"u":"R"},{"d":"2014-01-20","v":6.3,"u":"G"},{"d":"2014-01-27","v":13.8,"u":"R"},{"d":"2014-02-03","v":6.3,"u":"G"},{"d":"2014-02-10","v":3.0,"u":"G"},{"d":"2014-02-17","v":6.3,"u":"G"},{"d":"2014-03-03","v":1.5,"u":"R"},{"d":"2014-03-17","v":1.5,"u":"R"},{"d":"2014-03-31","v":5.4,"u":"G"},{"d":"2014-04-07","v":12.3,"u":"R"},{"d":"2014-04-14","v":6.3,"u":"R"},{"d":"2014-04-21","v":4.2,"u":"R"},{"d":"2014-04-28","v":5.4,"u":"R"},{"d":"2014-05-05","v":11.7,"u":"R"},{"d":"2014-05-12","v":8.4,"u":"R"},{"d":"2014-05-26","v":7.5,"u":"G"},{"d":"2014-06-09","v":0.9,"u":"G"},{"d":"2014-06-16","v":2.4,"u":"R"},{"d":"2014-06-23","v":4.2,"u":"G"},{"d":"2014-06-30","v":5.4,"u":"R"},{"d":"2014-08-25","v":8.4,"u":"R"},{"d":"2014-09-08","v":1.2,"u":"R"},{"d":"2014-09-15","v":1.2,"u":"R"},{"d":"2014-09-22","v":7.5,"u":"G"},{"d":"2014-09-29","v":19.8,"u":"G"},{"d":"2014-10-06","v":17.4,"u":"G"},{"d":"2014-10-13","v":5.7,"u":"R"},{"d":"2014-10-20","v":18.3,"u":"G"},{"d":"2014-10-27","v":1.5,"u":"R"},{"d":"2014-11-24","v":1.5,"u":"R"},{"d":"2014-12-01","v":3.0,"u":"G"},{"d":"2014-12-08","v":3.0,"u":"G"},{"d":"2014-12-15","v":3.0,"u":"R"},{"d":"2015-01-12","v":1.0,"u":"R"},{"d":"2015-01-26","v":4.2,"u":"R"},{"d":"2015-02-02","v":1.0,"u":"R"},{"d":"2015-03-02","v":2.4,"u":"R"},{"d":"2015-04-06","v":6.0,"u":"G"},{"d":"2015-04-13","v":12.0,"u":"R"},{"d":"2015-04-20","v":6.0,"u":"G"},{"d":"2015-04-27","v":2.4,"u":"G"},{"d":"2015-06-01","v":19.8,"u":"G"},{"d":"2015-07-20","v":2.4,"u":"G"},{"d":"2015-08-24","v":1.0,"u":"R"},{"d":"2015-09-14","v":1.0,"u":"G"},{"d":"2015-09-21","v":1.0,"u":"G"},{"d":"2015-09-28","v":1.0,"u":"R"},{"d":"2015-10-26","v":7.5,"u":"R"},{"d":"2015-11-02","v":1.0,"u":"R"},{"d":"2015-12-14","v":1.0,"u":"G"},{"d":"2016-01-11","v":6.9,"u":"R"},{"d":"2016-01-18","v":3.0,"u":"G"},{"d":"2016-02-08","v":1.0,"u":"R"},{"d":"2016-02-22","v":1.0,"u":"G"},{"d":"2016-03-07","v":1.0,"u":"G"},{"d":"2016-03-21","v":6.9,"u":"R"},{"d":"2016-04-18","v":1.0,"u":"G"},{"d":"2016-05-02","v":1.0,"u":"G"},{"d":"2016-05-09","v":2.4,"u":"G"},{"d":"2016-05-23","v":1.0,"u":"G"},{"d":"2016-05-30","v":2.4,"u":"G"},{"d":"2016-06-06","v":5.1,"u":"G"},{"d":"2016-06-13","v":2.4,"u":"R"},{"d":"2016-06-20","v":5.1,"u":"R"},{"d":"2016-07-11","v":1.0,"u":"G"},{"d":"2016-07-18","v":6.9,"u":"G"},{"d":"2016-08-01","v":1.0,"u":"G"},{"d":"2016-08-22","v":2.4,"u":"G"},{"d":"2016-08-29","v":1.0,"u":"G"},{"d":"2016-09-26","v":1.0,"u":"G"}
]
},
"vconcat":[
{
"width":745,"height":420,
"layer":[
{"data":{"name":"p"},"mark":{"type":"area","color":"#fdebd5","opacity":1,"clip":true},"encoding":{"x":{"field":"d","type":"temporal","scale":{"domain":[{"year":2012,"month":3,"date":7},{"year":2017,"month":4,"date":5}]},"axis":{"values":[{"year":2012,"month":10,"date":11},{"year":2013,"month":5,"date":3},{"year":2013,"month":11,"date":24},{"year":2014,"month":6,"date":16},{"year":2015,"month":1,"date":6},{"year":2015,"month":7,"date":30},{"year":2016,"month":2,"date":19},{"year":2016,"month":9,"date":10}],"labels":false,"grid":true}},"y":{"field":"bu","type":"quantitative","scale":{"domain":[24.83,44.59],"nice":false,"zero":false},"axis":{"orient":"right","values":[26,28,30,32,34,36,38,40,42,44],"format":".2f","labelExpr":"datum.value == 40 ? '' : datum.label","grid":true,"labelPadding":8,"labelOffset":-2}},"y2":{"field":"bl"}}},
{"data":{"name":"p"},"mark":{"type":"area","color":"#8a8a8a","opacity":0.5,"clip":true},"encoding":{"x":{"field":"d","type":"temporal"},"y":{"field":"sa","type":"quantitative"},"y2":{"field":"sb"}}},
{"data":{"name":"p"},"mark":{"type":"line","color":"#555555","strokeWidth":2,"clip":true},"encoding":{"x":{"field":"d","type":"temporal"},"y":{"field":"bu","type":"quantitative"}}},
{"data":{"name":"p"},"mark":{"type":"line","color":"#555555","strokeWidth":2,"clip":true},"encoding":{"x":{"field":"d","type":"temporal"},"y":{"field":"bl","type":"quantitative"}}},
{"data":{"name":"p"},"mark":{"type":"line","color":"#2e7d2e","strokeWidth":2.5,"strokeDash":[2,2.5],"clip":true},"encoding":{"x":{"field":"d","type":"temporal"},"y":{"field":"sa","type":"quantitative"}}},
{"data":{"name":"p"},"mark":{"type":"line","color":"#cc3333","strokeWidth":2.5,"strokeDash":[4,3],"clip":true},"encoding":{"x":{"field":"d","type":"temporal"},"y":{"field":"sb","type":"quantitative"}}},
{"data":{"name":"p"},"mark":{"type":"rule","color":"#333333","strokeWidth":1,"clip":true},"encoding":{"x":{"field":"d","type":"temporal"},"y":{"field":"l","type":"quantitative"},"y2":{"field":"h"}}},
{"data":{"name":"p"},"mark":{"type":"bar","width":3,"clip":true},"encoding":{"x":{"field":"d","type":"temporal"},"y":{"field":"o","type":"quantitative"},"y2":{"field":"c"},"color":{"condition":{"test":"datum.c >= datum.o","value":"#22922e"},"value":"#e02418"}}},
{"data":{"name":"p"},"mark":{"type":"line","color":"#dd2211","strokeWidth":2,"interpolate":"step-after","clip":true},"encoding":{"x":{"field":"d","type":"temporal"},"y":{"field":"tk","type":"quantitative"}}},
{"data":{"name":"p"},"mark":{"type":"line","color":"#2222dd","strokeWidth":2,"interpolate":"step-after","clip":true},"encoding":{"x":{"field":"d","type":"temporal"},"y":{"field":"kj","type":"quantitative"}}},
{"data":{"name":"p"},"mark":{"type":"line","color":"#ff6600","strokeWidth":4,"clip":true},"encoding":{"x":{"field":"d","type":"temporal"},"y":{"field":"ck","type":"quantitative"}}},
{"data":{"name":"p"},"mark":{"type":"line","color":"#801a8f","strokeWidth":3.5,"clip":true},"encoding":{"x":{"field":"d","type":"temporal"},"y":{"field":"me","type":"quantitative"}}},
{"data":{"name":"st"},"mark":{"type":"line","strokeWidth":3.5,"clip":true},"encoding":{"x":{"field":"d","type":"temporal"},"y":{"field":"v","type":"quantitative"},"detail":{"field":"s","type":"nominal"},"color":{"condition":{"test":"datum.t == 'up'","value":"#9acd00"},"value":"#ff9fcf"}}},
{"data":{"values":[{}]},"mark":{"type":"rule","color":"#000000","strokeWidth":2},"encoding":{"x":{"datum":{"year":2012,"month":3,"date":7},"type":"temporal"},"x2":{"datum":{"year":2017,"month":4,"date":5}},"y":{"datum":35.25}}},
{"data":{"values":[{"v":40.22}]},"mark":{"type":"point","shape":"M0.1,-0.3L2,-0.3L2,0.3L0.1,0.3Z","size":1936,"filled":true,"opacity":1,"color":"#3b6ef5","strokeWidth":0},"encoding":{"x":{"datum":{"year":2017,"month":4,"date":5},"type":"temporal"},"y":{"field":"v","type":"quantitative"}}},
{"data":{"values":[{"v":40.22}]},"mark":{"type":"text","align":"left","baseline":"middle","dx":5,"fontSize":12,"fontWeight":"bold","color":"white"},"encoding":{"x":{"datum":{"year":2017,"month":4,"date":5},"type":"temporal"},"y":{"field":"v","type":"quantitative"},"text":{"value":"40.22"}}},
{"data":{"values":[{}]},"mark":{"type":"text","align":"left","baseline":"middle","fontSize":12,"color":"#666666"},"encoding":{"x":{"datum":{"year":2012,"month":3,"date":7},"type":"temporal"},"y":{"datum":44.95},"text":{"value":"SIDETRADE - abcbourse.com"}}},
{"data":{"values":[{}]},"mark":{"type":"text","align":"right","baseline":"middle","fontSize":12,"color":"#666666"},"encoding":{"x":{"datum":{"year":2017,"month":3,"date":31},"type":"temporal"},"y":{"datum":44.95},"text":{"value":"5 ANS - HEBDO"}}},
{"data":{"values":[{}]},"mark":{"type":"text","align":"left","baseline":"middle","fontSize":12,"color":"#2233ee"},"encoding":{"x":{"datum":{"year":2012,"month":3,"date":19},"type":"temporal"},"y":{"datum":44.2},"text":{"value":"ICHIMOKU (26, 9)"}}},
{"data":{"values":[{}]},"mark":{"type":"text","align":"left","baseline":"middle","fontSize":12,"color":"#555555"},"encoding":{"x":{"datum":{"year":2012,"month":12,"date":7},"type":"temporal"},"y":{"datum":44.2},"text":{"value":"BOLL (20, 2)"}}},
{"data":{"values":[{}]},"mark":{"type":"text","align":"left","baseline":"middle","fontSize":12,"color":"#8b1a8b"},"encoding":{"x":{"datum":{"year":2013,"month":6,"date":19},"type":"temporal"},"y":{"datum":44.2},"text":{"value":"MME (30)"}}},
{"data":{"values":[{}]},"mark":{"type":"text","align":"left","baseline":"middle","fontSize":12,"color":"#ff99cc"},"encoding":{"x":{"datum":{"year":2013,"month":11,"date":22},"type":"temporal"},"y":{"datum":44.2},"text":{"value":"SUPERTREND (10, 3)"}}}
]
},
{
"width":745,"height":64,
"layer":[
{"data":{"name":"p"},"mark":{"type":"area","color":"#d86868","opacity":0.85,"clip":true},"encoding":{"x":{"field":"d","type":"temporal","scale":{"domain":[{"year":2012,"month":3,"date":7},{"year":2017,"month":4,"date":5}]},"axis":{"values":[{"year":2012,"month":10,"date":11},{"year":2013,"month":5,"date":3},{"year":2013,"month":11,"date":24},{"year":2014,"month":6,"date":16},{"year":2015,"month":1,"date":6},{"year":2015,"month":7,"date":30},{"year":2016,"month":2,"date":19},{"year":2016,"month":9,"date":10}],"labels":false,"grid":true}},"y":{"field":"m","type":"quantitative","scale":{"domain":[-8.24,11.0],"nice":false,"zero":false},"axis":{"orient":"right","values":[0],"format":".3f","grid":true,"labelPadding":8}},"y2":{"datum":0}}},
{"data":{"name":"p"},"mark":{"type":"line","color":"#b02020","strokeWidth":1,"clip":true},"encoding":{"x":{"field":"d","type":"temporal"},"y":{"field":"m","type":"quantitative"}}},
{"data":{"values":[{}]},"mark":{"type":"text","align":"left","baseline":"middle","fontSize":12,"color":"#dd3333"},"encoding":{"x":{"datum":{"year":2012,"month":3,"date":19},"type":"temporal"},"y":{"datum":8.5},"text":{"value":"MOM (12)"}}},
{"data":{"values":[{"v":9.2}]},"mark":{"type":"point","shape":"M0.1,-0.3L2,-0.3L2,0.3L0.1,0.3Z","size":1936,"filled":true,"opacity":1,"color":"#cc0000","strokeWidth":0},"encoding":{"x":{"datum":{"year":2017,"month":4,"date":5},"type":"temporal"},"y":{"field":"v","type":"quantitative"},"yOffset":{"value":-4}}},
{"data":{"values":[{"v":9.2}]},"mark":{"type":"text","align":"left","baseline":"middle","dx":5,"fontSize":12,"fontWeight":"bold","color":"white"},"encoding":{"x":{"datum":{"year":2017,"month":4,"date":5},"type":"temporal"},"y":{"field":"v","type":"quantitative"},"yOffset":{"value":-4},"text":{"value":"9.20"}}}
]
},
{
"width":745,"height":50,
"layer":[
{"data":{"name":"vol"},"mark":{"type":"bar","width":2,"clip":true},"encoding":{"x":{"field":"d","type":"temporal","scale":{"domain":[{"year":2012,"month":3,"date":7},{"year":2017,"month":4,"date":5}]},"axis":{"values":[{"year":2012,"month":10,"date":11},{"year":2013,"month":5,"date":3},{"year":2013,"month":11,"date":24},{"year":2014,"month":6,"date":16},{"year":2015,"month":1,"date":6},{"year":2015,"month":7,"date":30},{"year":2016,"month":2,"date":19},{"year":2016,"month":9,"date":10}],"format":"%m/%Y","grid":true,"labelPadding":6}},"y":{"field":"v","type":"quantitative","scale":{"domain":[0,46.4],"nice":false},"axis":{"orient":"right","values":[30],"format":".2f","grid":true,"labelPadding":8}},"color":{"condition":{"test":"datum.u == 'G'","value":"#3cb83c"},"value":"#ff3a3a"}}},
{"data":{"values":[{}]},"mark":{"type":"text","align":"left","baseline":"middle","fontSize":12,"color":"#33bb33"},"encoding":{"x":{"datum":{"year":2012,"month":3,"date":19},"type":"temporal"},"y":{"datum":37.1},"text":{"value":"VOLUME"}}},
{"data":{"values":[{"v":1}]},"mark":{"type":"point","shape":"M0.1,-0.3L2,-0.3L2,0.3L0.1,0.3Z","size":1936,"filled":true,"opacity":1,"color":"#1a9e1a","strokeWidth":0},"encoding":{"x":{"datum":{"year":2017,"month":4,"date":5},"type":"temporal"},"y":{"field":"v","type":"quantitative"},"yOffset":{"value":-5}}},
{"data":{"values":[{"v":1}]},"mark":{"type":"text","align":"left","baseline":"middle","dx":5,"fontSize":12,"fontWeight":"bold","color":"white"},"encoding":{"x":{"datum":{"year":2017,"month":4,"date":5},"type":"temporal"},"y":{"field":"v","type":"quantitative"},"yOffset":{"value":-5},"text":{"value":"1.000"}}}
]
}
]
}
